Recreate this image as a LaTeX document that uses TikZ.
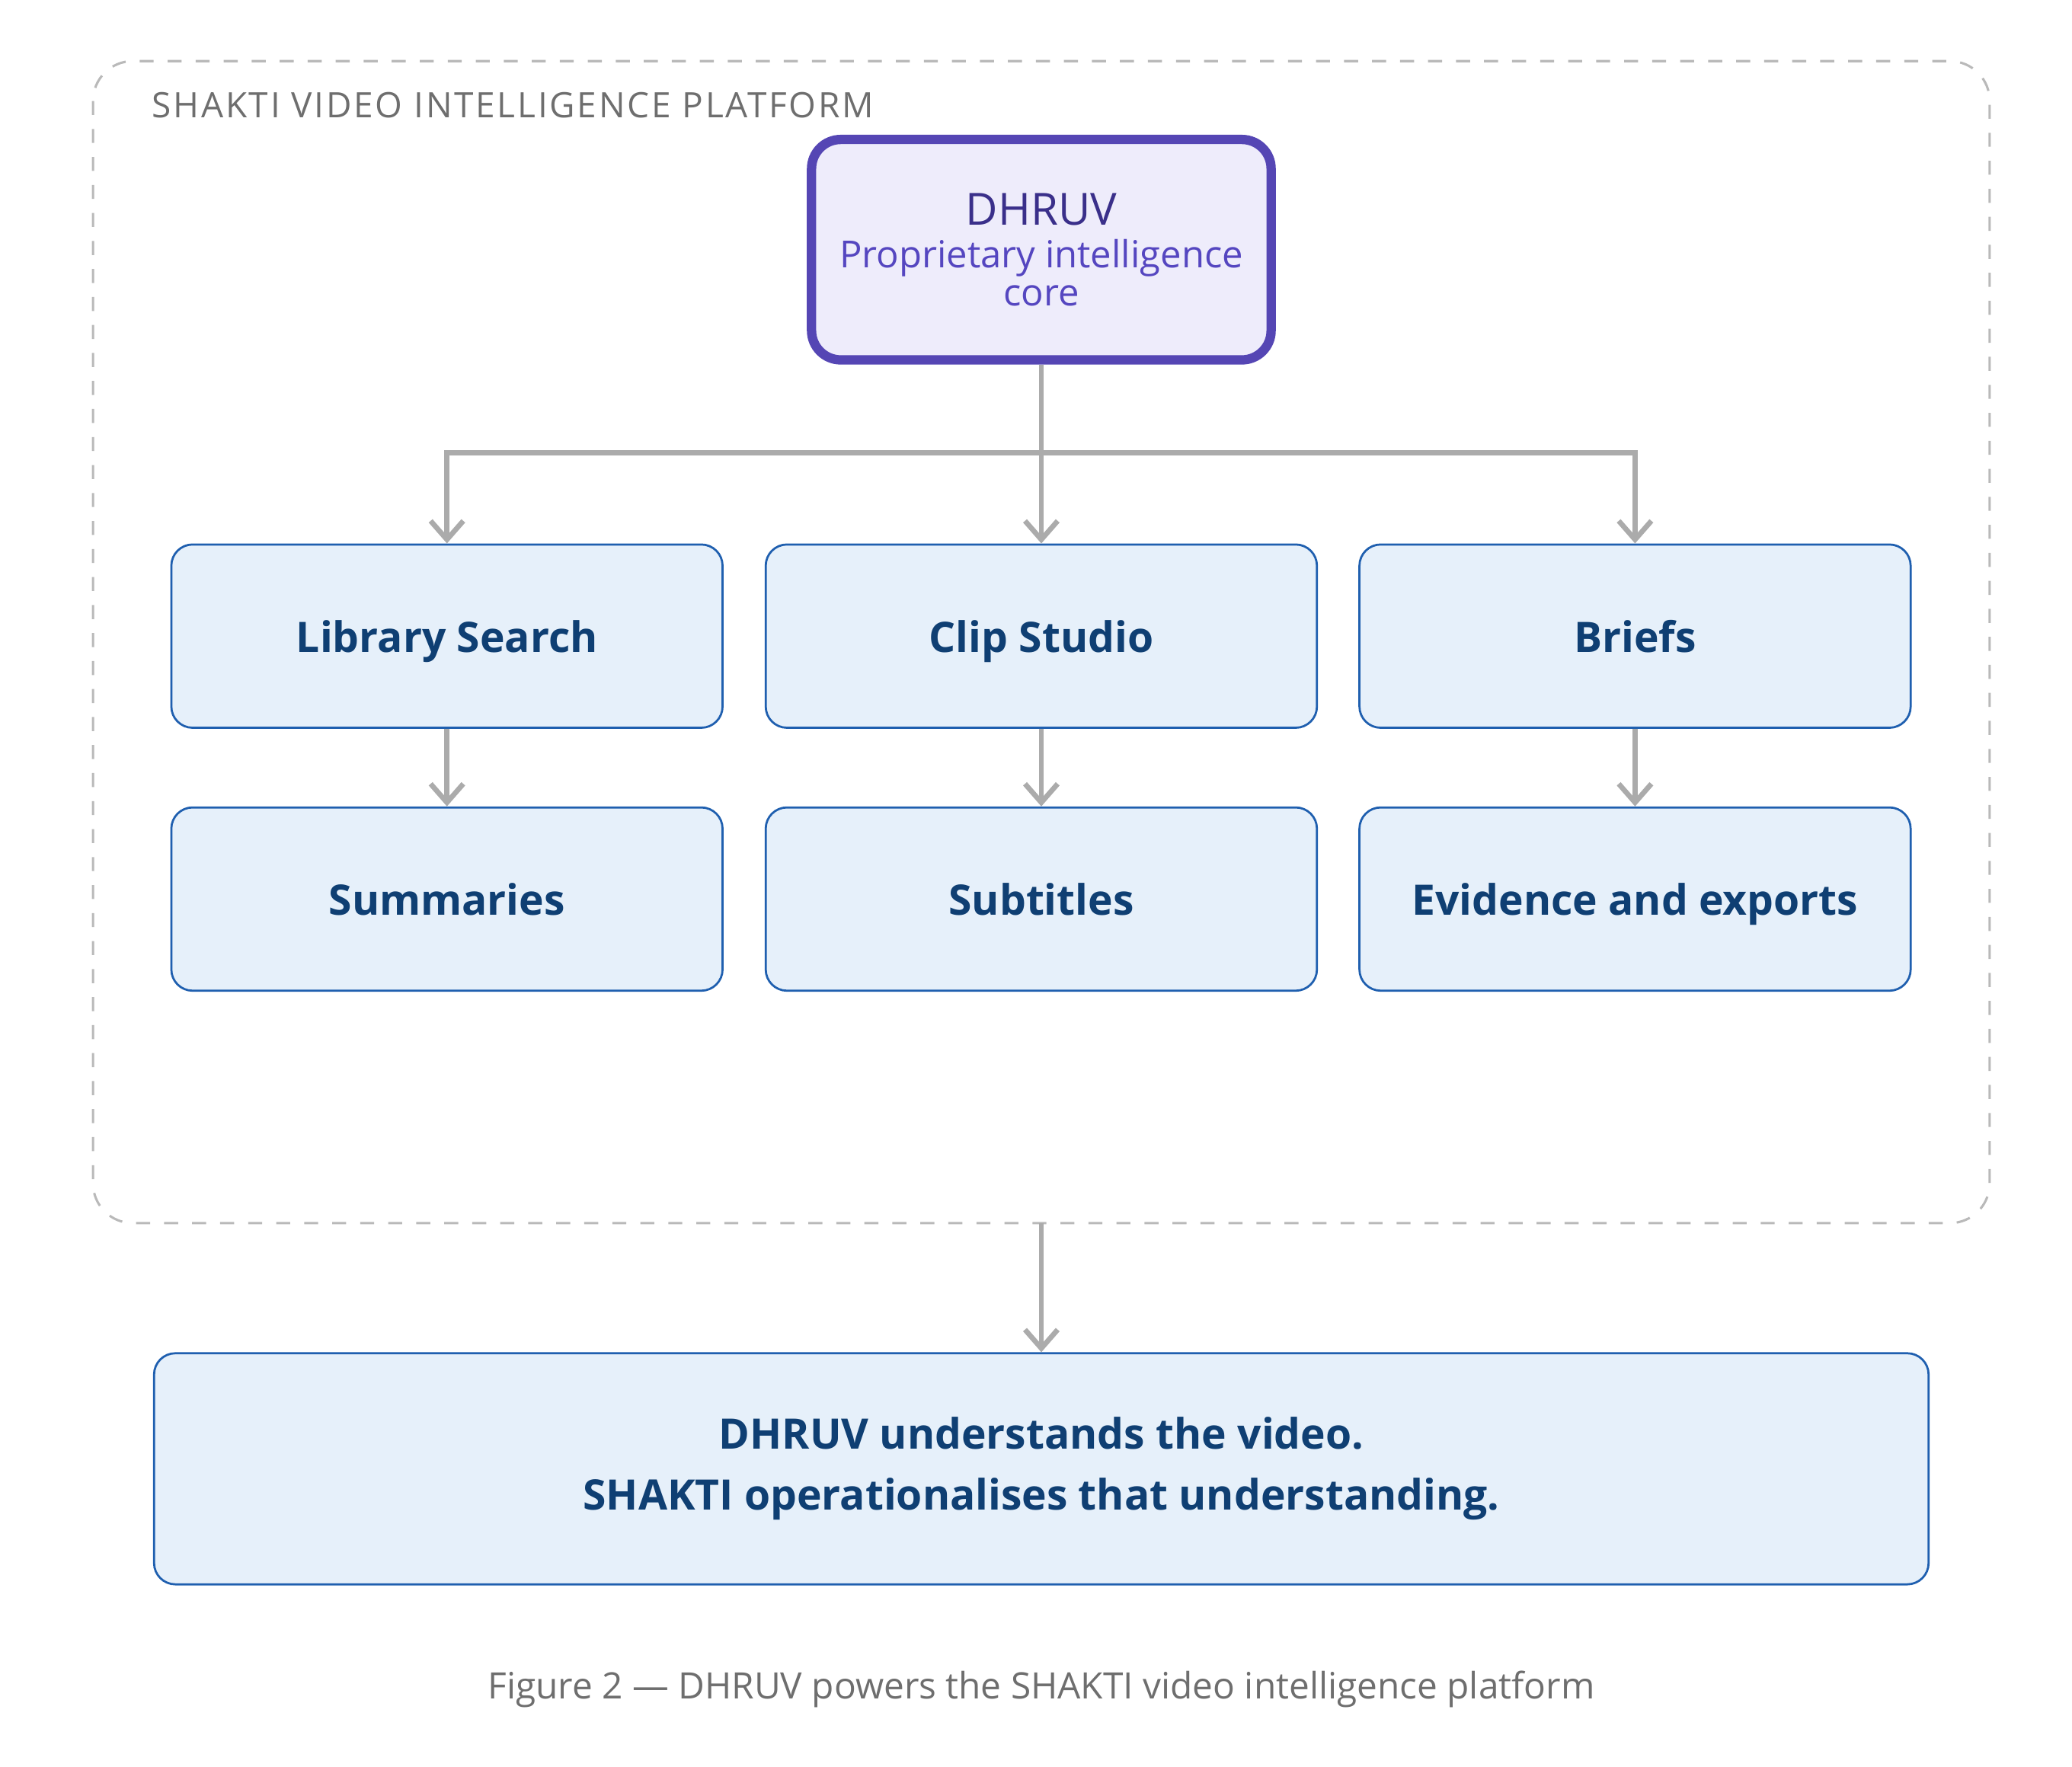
\documentclass[tikz,border=0pt]{standalone}
\usepackage{fontspec}
\setmainfont{Open Sans}
\usetikzlibrary{arrows.meta,positioning}
\definecolor{boxfill}{HTML}{E6F0FA}
\definecolor{boxline}{HTML}{1F5FAF}
\definecolor{boxtext}{HTML}{0F3F73}
\definecolor{corefill}{HTML}{EEECFB}
\definecolor{coreline}{HTML}{5546B4}
\definecolor{coretext}{HTML}{3A2F8A}
\definecolor{subtext}{HTML}{5546C0}
\definecolor{linkgray}{HTML}{ABABAB}
\definecolor{capgray}{HTML}{6E6E6E}
\tikzset{
	module/.style={
			draw=boxline,
			fill=boxfill,
			rounded corners=0.16cm,
			line width=0.45pt,
			minimum width=4.15cm,
			minimum height=1.38cm,
			text height=1.8ex,
			text depth=0.5ex,
			text=boxtext,
			font=\fontsize{9}{11}\selectfont\bfseries
		},
	link/.style={draw=linkgray, line width=1.1pt, -{Straight Barb[length=4pt,width=7pt]}}
}
\begin{document}
\begin{tikzpicture}
			\useasboundingbox (0,0) rectangle (15.6,-13.3);
			\draw[gray!55, dashed, line width=0.5pt, rounded corners=0.3cm] (0.7,-0.46) rectangle (14.98,-9.21);
			\node[anchor=west, text=capgray, font=\fontsize{7.5}{9}\selectfont\addfontfeature{LetterSpace=6}] at (1.02,-0.79) (title) {SHAKTI VIDEO INTELLIGENCE PLATFORM};

			\node[draw=coreline, fill=corefill, line width=2pt, rounded corners=0.22cm, minimum width=3.46cm, minimum height=1.66cm, align=center, text=subtext, font=\fontsize{8}{8.2}\selectfont] at (7.84,-1.88) (dhruv) {\textcolor{coretext}{\fontsize{9.5}{11}\selectfont DHRUV}\\[1pt]Proprietary intelligence\\core};

			\node[module] at (3.365,-4.79) (search) {Library Search};
			\node[module] at (7.84,-4.79) (studio) {Clip Studio};
			\node[module] at (12.31,-4.79) (briefs) {Briefs};
			\node[module] at (3.365,-6.77) (summ) {Summaries};
			\node[module] at (7.84,-6.77) (subs) {Subtitles};
			\node[module] at (12.31,-6.77) (evid) {Evidence and exports};

			\node[module, minimum width=13.36cm, minimum height=1.74cm, text height=, text depth=, align=center, font=\fontsize{9}{13}\selectfont\bfseries] at (7.84,-11.06) (claim) {DHRUV understands the video.\\SHAKTI operationalises that understanding.};
			\node[text=capgray, font=\fontsize{7.8}{9}\selectfont] at (7.84,-12.72) (caption) {Figure 2 — DHRUV powers the SHAKTI video intelligence platform};

			\coordinate (bus) at (7.84,-3.41);
			\coordinate (frame) at (7.84,-9.21);
			\draw[link] (dhruv) -- (studio.north);
			\draw[link] (bus) -| (search.north);
			\draw[link] (bus) -| (briefs.north);
			\draw[link] (search) -- (summ);
			\draw[link] (studio) -- (subs);
			\draw[link] (briefs) -- (evid);
			\draw[link] (frame) -- (claim);
		\end{tikzpicture}
\end{document}
